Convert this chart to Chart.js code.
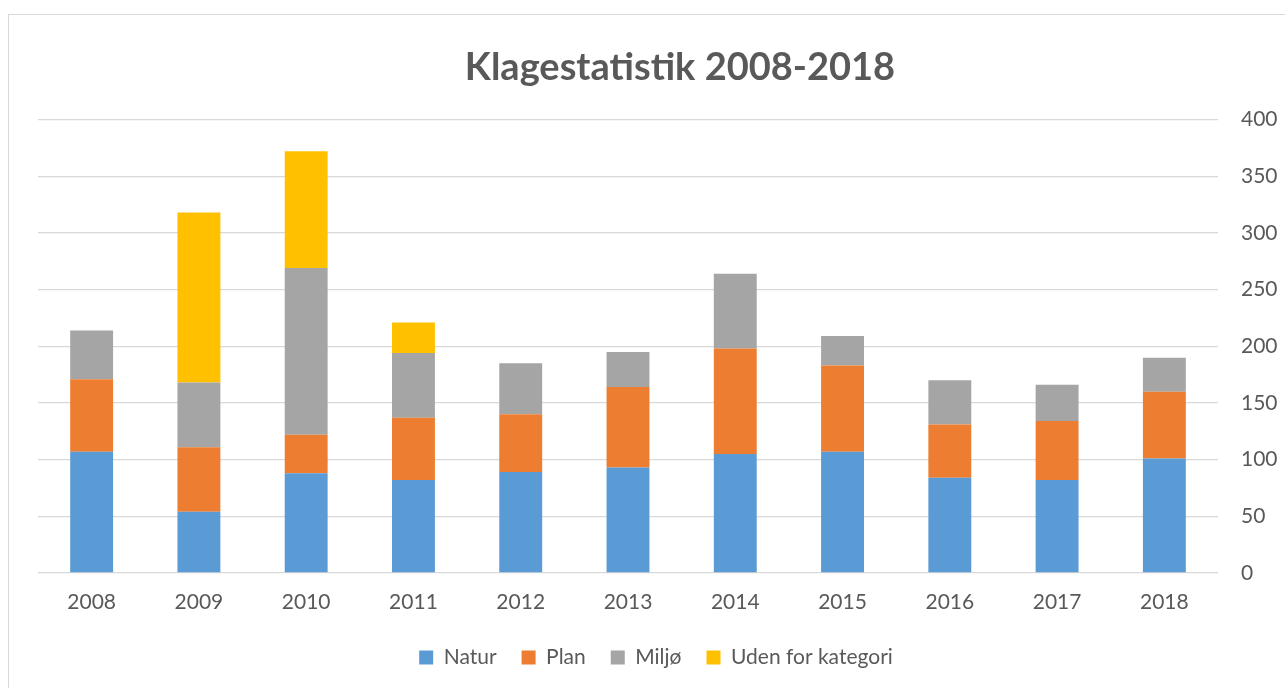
<!DOCTYPE html>
<html>
<head>
<meta charset="utf-8">
<title>Klagestatistik 2008-2018</title>
<script src="https://cdn.jsdelivr.net/npm/chart.js@4.4.0/dist/chart.umd.min.js"></script>
<style>
    html, body {
        margin: 0;
        padding: 0;
        background: #fff;
        overflow: hidden;
        width: 1285px;
        height: 688px;
    }
    #frame {
        position: absolute;
        left: 8px;
        top: 14px;
        border: 1px solid #d9d9d9;
        width: 1360px;
        height: 690px;
    }
</style>
</head>
<body>
<div id="frame">
    <canvas id="klageChart" width="1360" height="690"></canvas>
</div>
<script>
// Chart data
const years = ['2008', '2009', '2010', '2011', '2012', '2013', '2014', '2015', '2016', '2017', '2018'];
const natur = [107, 54, 88, 82, 89, 93, 105, 107, 84, 82, 101];
const plan = [64, 57, 34, 55, 51, 71, 93, 76, 47, 52, 59];
const miljo = [43, 57, 147, 57, 45, 31, 66, 26, 39, 32, 30];
const udenForKategori = [0, 150, 103, 27, 0, 0, 0, 0, 0, 0, 0];
const yTicks = [0, 50, 100, 150, 200, 250, 300, 350, 400];

Chart.defaults.color = '#595959';
Chart.defaults.font.family = "'Lato', 'Open Sans', sans-serif";

/**
 * Nudge the legend a bit, so it sits like in the Excel original
 */
const legendShift = {
    id: 'legendShift',
    afterLayout(chart) {
        const legend = chart.legend;
        if (!legend) return;
        legend.left -= 24;
        legend.right -= 24;
        legend.top += 6;
        legend.bottom += 6;
    }
};

function makeDataset(label, data, color) {
    return {
        label: label,
        data: data,
        backgroundColor: color,
        borderWidth: 0
    };
}

const ctx = document.getElementById('klageChart').getContext('2d');

new Chart(ctx, {
    type: 'bar',
    data: {
        labels: years,
        datasets: [
            makeDataset('Natur', natur, '#5B9BD5'),
            makeDataset('Plan', plan, '#ED7D31'),
            makeDataset('Miljø', miljo, '#A5A5A5'),
            makeDataset('Uden for kategori', udenForKategori, '#FFC000')
        ]
    },
    options: {
        responsive: false,
        animation: false,
        categoryPercentage: 1,
        barPercentage: 0.4,
        layout: {
            padding: { left: 29, right: 47, top: 0, bottom: 33 }
        },
        scales: {
            x: {
                stacked: true,
                grid: { display: false, drawTicks: false },
                border: { display: false },
                ticks: {
                    padding: 17,
                    font: { size: 21 },
                    color: '#595959'
                },
                afterFit(scale) {
                    scale.height = 43;
                }
            },
            y: {
                stacked: true,
                position: 'right',
                min: yTicks[0],
                max: yTicks[yTicks.length - 1],
                afterBuildTicks(scale) {
                    scale.ticks = yTicks.map(v => ({ value: v }));
                },
                grid: {
                    color: '#d9d9d9',
                    lineWidth: 1.3,
                    drawTicks: false
                },
                border: { display: false },
                ticks: {
                    padding: 23,
                    font: { size: 21 },
                    color: '#595959'
                },
                afterFit(scale) {
                    scale.width = 104;
                }
            }
        },
        plugins: {
            title: {
                display: true,
                text: 'Klagestatistik 2008-2018',
                color: '#595959',
                font: { size: 38, weight: 'bold' },
                padding: { top: 30, bottom: 29 }
            },
            legend: {
                position: 'bottom',
                labels: {
                    boxWidth: 14,
                    boxHeight: 14,
                    padding: 25,
                    font: { size: 21 },
                    color: '#595959'
                }
            },
            tooltip: { enabled: false }
        }
    },
    plugins: [legendShift]
});
</script>
</body>
</html>
